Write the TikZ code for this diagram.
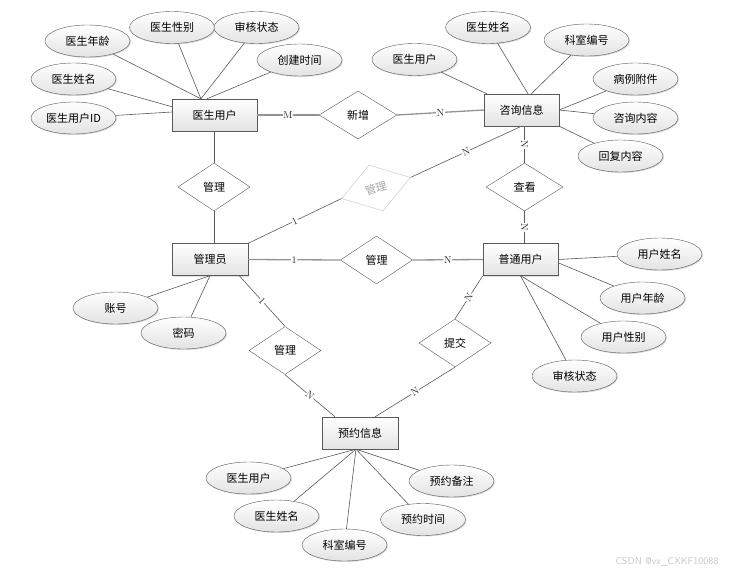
\documentclass[tikz,border=0pt]{standalone}
\usepackage{fontspec}
\newfontfamily\cjk{Noto Sans CJK SC}
\usetikzlibrary{shapes.geometric,shadows}

\begin{document}
\begin{tikzpicture}[x=1pt, y=-1pt,
    ent/.style={rectangle, draw=gray!70!black, top color=white, bottom color=gray!22,
        minimum height=32pt, inner sep=0pt, font=\cjk\fontsize{11}{13}\selectfont,
        drop shadow={shadow xshift=1pt, shadow yshift=-1pt, opacity=0.25}},
    attr/.style={ellipse, draw=gray!70!black, top color=white, bottom color=gray!22,
        minimum width=85pt, minimum height=32pt, inner sep=0pt, font=\cjk\fontsize{11}{13}\selectfont,
        drop shadow={shadow xshift=1pt, shadow yshift=-1pt, opacity=0.3}},
    rel/.style={diamond, draw=gray!70!black, fill=white, minimum width=72pt, minimum height=48pt,
        inner sep=0pt, font=\cjk\fontsize{11}{13}\selectfont},
    link/.style={gray!70!black, line width=0.6pt},
    tlink/.style={gray!85, line width=1.3pt},
    card/.style={font=\fontsize{10}{11}\selectfont, text=black!85, fill=white, inner sep=0.6pt, sloped, midway}]

    \useasboundingbox (0,0) rectangle (749,575);

    % entita
    \node[ent, minimum width=85pt] (ys) at (214.5,115) {医生用户};
    \node[ent, minimum width=75pt] (zx) at (521.5,110) {咨询信息};
    \node[ent, minimum width=76pt] (gl) at (210,259.5) {管理员};
    \node[ent, minimum width=75pt] (pt) at (520.5,259.5) {普通用户};
    \node[ent, minimum width=76pt] (yy) at (360,433) {预约信息};

    % relazioni
    \node[rel, minimum width=78pt] (xz) at (358,115) {新增};
    \node[rel] (gm1) at (214,187) {管理};
    \node[rel, draw=gray!45, text=gray!70, rotate=17] (gd) at (376,188) {管理};
    \node[rel, minimum width=77pt] (ck) at (524.5,187) {查看};
    \node[rel] (gm2) at (376.5,260) {管理};
    \node[rel] (gm3) at (285,350.5) {管理};
    \node[rel] (tj) at (455,343) {提交};

    % collegamenti
    \draw[tlink] (ys.east) -- node[card] {M} (xz.west);
    \draw[tlink] (xz.east) -- node[card] {N} (zx.west);
    \draw[link] (ys.south -| gm1.north) -- (gm1.north);
    \draw[link] (gm1.south) -- (gm1.south |- gl.north);
    \draw[link] (gl.north east) -- node[card] {1} (gd.west);
    \draw[link] (gd.east) -- node[card] {N} (zx.south);
    \draw[link] (zx.south -| ck.north) -- node[card] {N} (ck.north);
    \draw[link] (ck.south) -- node[card] {N} (ck.south |- pt.north);
    \draw[tlink] (gl.east) -- node[card] {1} (gm2.west);
    \draw[tlink] (gm2.east) -- node[card] {N} (pt.west);
    \draw[link] (gl.-29) -- node[card] {1} (gm3.north);
    \draw[link] (gm3.south) -- node[card] {N} (yy.147);
    \draw[link] (pt.south west) -- node[card] {N} (tj.north);
    \draw[link] (tj.south) -- node[card] {N} (yy.47);

    % attributi medico
    \node[attr] (ysnl) at (87.5,41) {医生年龄};
    \node[attr] (ysxb) at (172,27.5) {医生性别};
    \node[attr] (yszt) at (256.5,27.5) {审核状态};
    \node[attr] (yssj) at (299.5,60) {创建时间};
    \node[attr] (ysxm) at (73.5,79) {医生姓名};
    \node[attr] (ysid) at (73.5,118) {医生用户ID};
    \draw[link] (ys.130) -- (ysnl);
    \draw[link] (ys.130) -- (ysxb);
    \draw[link] (ys.130) -- (yszt);
    \draw[link] (ys.115) -- (yssj);
    \draw[link] (ys.169) -- (ysxm);
    \draw[link] (ys.176) -- (ysid);

    % attributi consulto
    \node[attr] (zxyh) at (414.5,59.5) {医生用户};
    \node[attr] (zxxm) at (488,27.5) {医生姓名};
    \node[attr] (zxks) at (586.5,40) {科室编号};
    \node[attr] (zxbl) at (635.5,79) {病例附件};
    \node[attr] (zxnr) at (635.5,118) {咨询内容};
    \node[attr] (zxhf) at (620.5,156) {回复内容};
    \draw[link] (zx.155) -- (zxyh);
    \draw[link] (zx.68) -- (zxxm);
    \draw[link] (zx.59) -- (zxks);
    \draw[link] (zx.east) -- (zxbl);
    \draw[link] (zx.east) -- (zxnr);
    \draw[link] (zx.south east) -- (zxhf);

    % attributi amministratore
    \node[attr] (glzh) at (115.5,308) {账号};
    \node[attr] (glmm) at (183.5,333) {密码};
    \draw[link] (gl.south) -- (glzh);
    \draw[link] (gl.south) -- (glmm);

    % attributi utente
    \node[attr] (ptxm) at (659.5,254) {用户姓名};
    \node[attr] (ptnl) at (642.5,298) {用户年龄};
    \node[attr] (ptxb) at (623.5,337) {用户性别};
    \node[attr] (ptzt) at (574.5,376) {审核状态};
    \draw[link] (pt.east) -- (ptxm);
    \draw[link] (pt.-5) -- (ptnl);
    \draw[link] (pt.south) -- (ptxb);
    \draw[link] (pt.south) -- (ptzt);

    % attributi prenotazione
    \node[attr] (yyyh) at (248.5,478) {医生用户};
    \node[attr] (yyxm) at (276.5,516) {医生姓名};
    \node[attr] (yyks) at (344.5,545) {科室编号};
    \node[attr] (yybz) at (451.5,481) {预约备注};
    \node[attr] (yysj) at (423,519.5) {预约时间};
    \foreach \a in {yyyh,yyxm,yyks,yybz,yysj}
        \draw[link] (yy.-104) -- (\a);

    \node[font=\sffamily\fontsize{10}{12}\selectfont, text=gray!45] (wm) at (667,562) {CSDN @vx\_CXKF10088};
\end{tikzpicture}
\end{document}
